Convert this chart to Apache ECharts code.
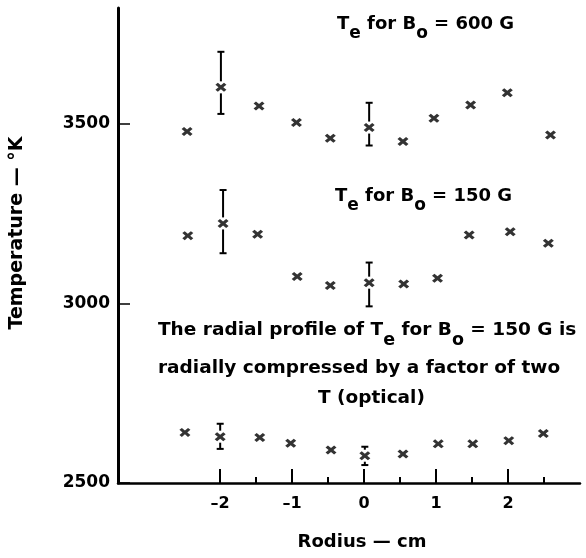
<!DOCTYPE html>
<html>
<head>
<meta charset="utf-8">
<script src="https://cdn.jsdelivr.net/npm/echarts@6/dist/echarts.min.js"></script>
<style>
  html, body { margin: 0; padding: 0; background: #fff; }
  #chart { width: 586px; height: 558px; }
</style>
</head>
<body>
<div id="chart"></div>
<script>
// radius (cm) and electron temperature (°K)
const r600 = [-2.46, -1.99, -1.46, -0.94, -0.47, 0.07, 0.54, 0.97, 1.48, 1.99, 2.59];
const t600 = [3479, 3602, 3550, 3504, 3460, 3490, 3451, 3516, 3553, 3587, 3469];
const r150 = [-2.45, -1.96, -1.48, -0.93, -0.47, 0.07, 0.55, 1.02, 1.46, 2.03, 2.56];
const t150 = [3189, 3223, 3193, 3075, 3050, 3058, 3054, 3070, 3191, 3200, 3168];
const rOpt = [-2.49, -2.0, -1.45, -1.02, -0.46, 0.01, 0.54, 1.03, 1.51, 2.01, 2.49];
const tOpt = [2641, 2629, 2627, 2611, 2592, 2576, 2581, 2609, 2609, 2618, 2638];

// error bars: [radius, low, high, centre]
const err600 = [[-1.99, 3528, 3701, 3602], [0.07, 3440, 3559, 3490]];
const err150 = [[-1.96, 3140, 3316, 3223], [0.07, 2992, 3114, 3058]];
const errOpt = [[-2.0, 2595, 2665, 2629], [0.01, 2550, 2601, 2576]];

const majorTicks = [-2, -1, 0, 1, 2];
const minorTicks = [-1.5, -0.5, 0.5, 1.5, 2.5];
const yTicks = [2500, 3000, 3500];

const FONT = "DejaVu Sans";
const cross = "path://M0,2.2L2.2,0L5,2.8L7.8,0L10,2.2L7.2,5L10,7.8L7.8,10L5,7.2L2.2,10L0,7.8L2.8,5Z";

const zip = (xs, ys) => xs.map((x, i) => [x, ys[i]]);

function renderErr(params, api) {
	const x = api.value(0);
	const lo = api.coord([x, api.value(1)]);
	const hi = api.coord([x, api.value(2)]);
	const mid = api.coord([x, api.value(3)]);
	const w = 3.5;
	const gap = 6;
	const style = { stroke: "#000", lineWidth: 2 };
	const seg = (x1, y1, x2, y2) => ({ type: "line", shape: { x1, y1, x2, y2 }, style });
	return {
		type: "group",
		children: [
			seg(hi[0], hi[1], hi[0], Math.max(hi[1], mid[1] - gap)),
			seg(lo[0], Math.min(lo[1], mid[1] + gap), lo[0], lo[1]),
			seg(lo[0] - w, lo[1], lo[0] + w, lo[1]),
			seg(hi[0] - w, hi[1], hi[0] + w, hi[1]),
		],
	};
}

const scatter = (data) => ({
	type: "scatter",
	data,
	symbol: cross,
	symbolSize: [11, 9],
	itemStyle: { color: "#000" },
	z: 3,
});

const errSeries = (data) => ({
	type: "custom",
	data,
	renderItem: renderErr,
	encode: { x: 0, y: [1, 2] },
	z: 2,
});

// main text and subscripts get the same box height, the subscript sits lower
const rich = (size) => {
	const lh = size + 4;
	const drop = 10;
	return {
		m: { fontFamily: FONT, fontWeight: "bold", fontSize: size, lineHeight: lh, padding: [0, 0, drop, 0] },
		s: { fontFamily: FONT, fontWeight: "bold", fontSize: size - 1, lineHeight: lh, padding: [drop, 0, 0, 0] },
	};
};

const label = (x, y, text, size) => ({
	type: "text",
	x,
	y,
	style: { text, rich: rich(size), fill: "#000" },
});

const chart = echarts.init(document.getElementById("chart"));

chart.setOption({
	animation: false,
	grid: { left: 118, right: 6, top: 8, bottom: 75 },
	xAxis: [
		{
			type: "value",
			min: -3.42,
			max: 3.0,
			position: "bottom",
			axisLine: { onZero: false, lineStyle: { color: "#000", width: 2.5 } },
			axisTick: { inside: true, length: 14, customValues: majorTicks, lineStyle: { color: "#000", width: 2 } },
			axisLabel: {
				customValues: majorTicks,
				margin: 13,
				color: "#000",
				fontFamily: FONT,
				fontWeight: "bold",
				fontSize: 16,
				formatter: (v) => (v < 0 ? "\u2013" + Math.abs(v) : String(v)),
			},
			splitLine: { show: false },
			name: "Rodius \u2014 cm",
			nameLocation: "middle",
			nameGap: 50,
			nameTextStyle: { color: "#000", fontFamily: FONT, fontWeight: "bold", fontSize: 18, padding: [0, 0, 0, 26] },
		},
		{
			type: "value",
			min: -3.42,
			max: 3.0,
			position: "bottom",
			axisLine: { show: false },
			axisTick: { inside: true, length: 6, customValues: minorTicks, lineStyle: { color: "#000", width: 2 } },
			axisLabel: { show: false },
			splitLine: { show: false },
		},
	],
	yAxis: {
		type: "value",
		min: 2500,
		max: 3823,
		interval: 500,
		axisLine: { show: true, onZero: false, lineStyle: { color: "#000", width: 3 } },
		axisTick: { inside: true, length: 12, customValues: yTicks, lineStyle: { color: "#000", width: 1.5 } },
		axisLabel: {
			customValues: yTicks,
			color: "#000",
			fontFamily: FONT,
			fontWeight: "bold",
			fontSize: 17,
			margin: 8,
			formatter: (v) => String(v),
		},
		splitLine: { show: false },
	},
	series: [
		scatter(zip(r600, t600)),
		scatter(zip(r150, t150)),
		scatter(zip(rOpt, tOpt)),
		errSeries(err600),
		errSeries(err150),
		errSeries(errOpt),
	],
	graphic: [
		{
			type: "text",
			x: 17,
			y: 233,
			rotation: Math.PI / 2,
			style: {
				text: "Temperature \u2014 \u00b0K",
				fill: "#000",
				font: "bold 19px 'DejaVu Sans'",
				align: "center",
				verticalAlign: "middle",
			},
		},
		label(337, 18, "{m|T}{s|e}{m| for B}{s|o}{m| = 600 G}", 18),
		label(335, 190, "{m|T}{s|e}{m| for B}{s|o}{m| = 150 G}", 18),
		label(158, 324, "{m|The radial profile of T}{s|e}{m| for B}{s|o}{m| = 150 G is}", 18.5),
		label(158, 362, "{m|radially compressed by a factor of two}", 18.5),
		label(318, 392, "{m|T (optical)}", 18.5),
	],
});
</script>
</body>
</html>
